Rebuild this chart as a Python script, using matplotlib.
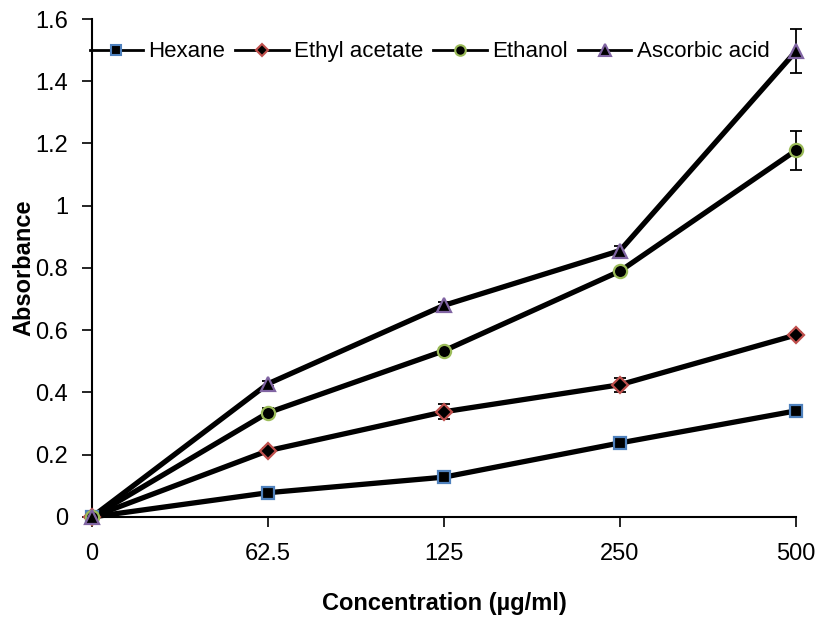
import numpy as np
import matplotlib
matplotlib.use("Agg")
import matplotlib.pyplot as plt

plt.rcParams['font.family'] = ['Liberation Sans', 'DejaVu Sans']

# data
concentrations = ["0", "62.5", "125", "250", "500"]

hexane = [0.0, 0.078, 0.128, 0.238, 0.341]
hexane_err = [0.0, 0.006, 0.006, 0.008, 0.018]

ethyl_acetate = [0.0, 0.213, 0.338, 0.425, 0.585]
ethyl_acetate_err = [0.0, 0.008, 0.024, 0.022, 0.008]

ethanol = [0.0, 0.335, 0.534, 0.790, 1.178]
ethanol_err = [0.0, 0.014, 0.008, 0.008, 0.063]

ascorbic_acid = [0.0, 0.428, 0.680, 0.856, 1.497]
ascorbic_acid_err = [0.0, 0.008, 0.010, 0.016, 0.072]

series = [
    ("Hexane", hexane, hexane_err, "s", "#4F81BD", 9),
    ("Ethyl acetate", ethyl_acetate, ethyl_acetate_err, "D", "#C0504D", 8),
    ("Ethanol", ethanol, ethanol_err, "o", "#9BBB59", 9.5),
    ("Ascorbic acid", ascorbic_acid, ascorbic_acid_err, "^", "#8064A2", 10),
]

fig = plt.figure(figsize=(8.19, 6.21), dpi=100)
ax = fig.add_axes([0.1123, 0.1675, 0.8597, 0.8019])

x = np.arange(len(concentrations))
handles = []
for name, vals, err, mk, col, ms in series:
    ax.errorbar(x, vals, yerr=err, fmt="none", ecolor="black", elinewidth=1.3,
                capsize=4, capthick=1.3, zorder=2, clip_on=False)
    ax.plot(x, vals, color="black", lw=3.8, zorder=3, clip_on=False,
            solid_capstyle="butt")
    ax.plot(x, vals, ls="none", marker=mk, ms=ms, mfc="black", mec=col,
            mew=1.6, zorder=4, clip_on=False)
    h, = ax.plot([], [], color="black", lw=2, marker=mk, ms=ms * 0.8,
                 mfc="black", mec=col, mew=1.5, label=name)
    handles.append(h)

ax.set_xlim(0, 4)
ax.set_ylim(0, 1.6)
ax.set_xticks(x)
ax.set_xticklabels(concentrations)
ax.set_yticks(np.arange(0, 1.61, 0.2))
ax.set_yticklabels(["0", "0.2", "0.4", "0.6", "0.8", "1", "1.2", "1.4", "1.6"])

for s in ["top", "right"]:
    ax.spines[s].set_visible(False)
for s in ["left", "bottom"]:
    ax.spines[s].set_linewidth(1.5)

ax.tick_params(axis="x", direction="out", length=7, width=1.2, labelsize=17, pad=12)
ax.tick_params(axis="y", direction="out", length=7, width=1.2, labelsize=17, pad=10)

ax.set_xlabel("Concentration (µg/ml)", fontsize=17, fontweight="bold", va="center")
ax.set_ylabel("Absorbance", fontsize=17, fontweight="bold", va="center")
ax.xaxis.set_label_coords(0.5, -0.173)
ax.yaxis.set_label_coords(-0.097, 0.5)

leg = ax.legend(handles=handles, loc="center left", bbox_to_anchor=(-0.016, 0.934),
                ncol=4, frameon=False, fontsize=16, handlelength=2.4,
                handletextpad=0.25, columnspacing=0.45, borderaxespad=0)

fig.savefig("out.png", dpi=100)
